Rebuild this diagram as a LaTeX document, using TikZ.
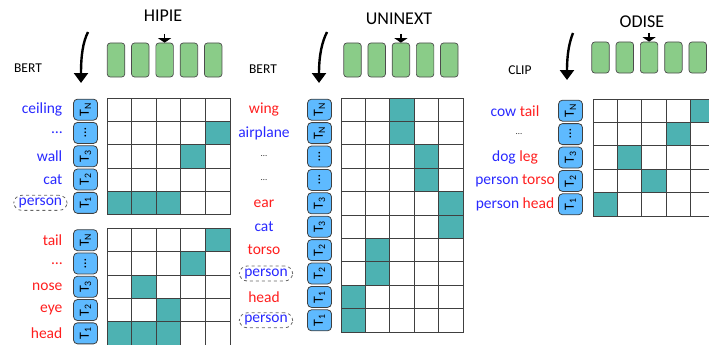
\documentclass[tikz,border=0pt]{standalone}
\usepackage{fontspec}
\setmainfont{Carlito}
\usepackage{graphicx}
\usepackage{tikz}
\usetikzlibrary{positioning}
\usetikzlibrary{arrows.meta}

\definecolor{qblue}{RGB}{40,40,255}
\definecolor{qred}{RGB}{255,30,30}
\definecolor{cellteal}{RGB}{77,178,178}
\definecolor{boxgreen}{RGB}{138,204,136}
\definecolor{tokblue}{RGB}{94,186,255}

\begin{document}
\begin{tikzpicture}[x=1pt, y=-1pt,
    title/.style={font=\fontsize{18}{20}\selectfont},
    enc/.style={font=\fontsize{13.5}{15}\selectfont},
    lbl/.style={font=\fontsize{15.5}{18}\selectfont, inner sep=0pt},
    pers/.style={lbl, text=qblue, draw=black!60, dashed, rounded corners=8pt, inner xsep=5pt, inner ysep=2.5pt, line width=0.8pt},
    tok/.style={draw=black!75, fill=tokblue, rounded corners=4pt, minimum width=24pt, minimum height=21pt, inner sep=0pt, line width=0.8pt, font=\fontsize{14}{14}\selectfont},
    query/.style={draw=black!70, fill=boxgreen, rounded corners=3pt, minimum width=17.5pt, minimum height=34pt, inner sep=0pt, line width=0.7pt},
    cell/.style={draw=black!75, line width=0.7pt},
    hit/.style={cell, fill=cellteal},
    pick/.style={line width=1.3pt, -{Triangle[width=13pt, length=4.5pt]}},
    feed/.style={line width=2.4pt, -{Triangle[width=14pt, length=10pt]}}]
  \useasboundingbox (0,0) rectangle (709,345);
  \clip (0,0) rectangle (709,345);

  % HIPIE
  \node[title] (hipie) at (163,15.5) {HIPIE};
  \node[enc] (bertA) at (28,68) {BERT};
  \foreach \i in {1,...,5}
    \node[query] (hq\i) at ({116+(\i-1)*24.3},60) {};
  \coordinate (hpin) at (164.6,34);
  \draw[pick] (hpin) -- (hq3.north);
  \coordinate (hsrc) at (88,32);
  \coordinate (hdst) at (81,83);
  \draw[feed] (hsrc) .. controls (83,42) and (81,55) .. (hdst);

  \foreach \r in {1,...,5}
    \foreach \c in {1,...,5} {
      \draw[cell] ({107+(\c-1)*24.6},{98+(\r-1)*23.3}) rectangle ++(24.6,23.3);
      \draw[cell] ({107+(\c-1)*24.6},{228.5+(\r-1)*23.3}) rectangle ++(24.6,23.3);
    }
  \foreach \r/\c in {2/5,3/4,5/1,5/2,5/3}
    \draw[hit] ({107+(\c-1)*24.6},{98+(\r-1)*23.3}) rectangle ++(24.6,23.3);
  \foreach \r/\c in {1/5,2/4,3/2,4/3,5/1,5/2,5/3}
    \draw[hit] ({107+(\c-1)*24.6},{228.5+(\r-1)*23.3}) rectangle ++(24.6,23.3);

  \foreach \r/\t/\w in {1/T\textsubscript{N}/ceiling, 2/\ldots/\ldots, 3/T\textsubscript{3}/wall, 4/T\textsubscript{2}/cat} {
    \node[tok] (hta\r) at (85.5,{98+(\r-0.5)*23.3}) {\rotatebox{90}{\t}};
    \node[lbl, text=qblue, anchor=east] (hwa\r) at (62.5,{98+(\r-0.5)*23.3}) {\w};
  }
  \node[tok] (hta5) at (85.5,{98+4.5*23.3}) {\rotatebox{90}{T\textsubscript{1}}};
  \node[pers, anchor=east] (hwa5) at (67.5,{98+4.5*23.3}) {person};

  \foreach \r/\t/\w in {1/T\textsubscript{N}/tail, 2/\ldots/\ldots, 3/T\textsubscript{3}/nose, 4/T\textsubscript{2}/eye, 5/T\textsubscript{1}/head} {
    \node[tok] (htb\r) at (85.5,{228.5+(\r-0.5)*23.3}) {\rotatebox{90}{\t}};
    \node[lbl, text=qred, anchor=east] (hwb\r) at (62.5,{228.5+(\r-0.5)*23.3}) {\w};
  }

  % UNINEXT
  \node[title] (uninext) at (399,19) {UNINEXT};
  \node[enc] (bertB) at (263,69) {BERT};
  \foreach \i in {1,...,5}
    \node[query] (uq\i) at ({352.5+(\i-1)*24.2},60) {};
  \coordinate (upin) at (400.9,34);
  \draw[pick] (upin) -- (uq3.north);
  \coordinate (usrc) at (327,32);
  \coordinate (udst) at (319,83);
  \draw[feed] (usrc) .. controls (322,42) and (319,55) .. (udst);

  \foreach \r in {1,...,10}
    \foreach \c in {1,...,5}
      \draw[cell] ({341+(\c-1)*24.4},{98+(\r-1)*23.4}) rectangle ++(24.4,23.4);
  \foreach \r/\c in {1/3,2/3,3/4,4/4,5/5,6/5,7/2,8/2,9/1,10/1}
    \draw[hit] ({341+(\c-1)*24.4},{98+(\r-1)*23.4}) rectangle ++(24.4,23.4);

  \foreach \r/\t/\w/\col in {1/T\textsubscript{N}/wing/qred, 2/T\textsubscript{N}/airplane/qblue, 3/\ldots/{\small\ldots}/black!80, 4/\ldots/{\small\ldots}/black!80, 5/T\textsubscript{3}/ear/qred, 6/T\textsubscript{3}/cat/qblue, 7/T\textsubscript{2}/torso/qred, 9/T\textsubscript{1}/head/qred} {
    \node[tok] (ut\r) at (319.5,{98+(\r-0.5)*23.4}) {\rotatebox{90}{\t}};
    \node[lbl, text=\col] (uw\r) at (264,{98+(\r-0.5)*23.4}) {\w};
  }
  \node[tok] (ut8) at (319.5,{98+7.5*23.4}) {\rotatebox{90}{T\textsubscript{2}}};
  \node[pers] (uw8) at (266,{98+7.5*23.4}) {person};
  \node[tok] (ut10) at (319.5,{98+9.5*23.4}) {\rotatebox{90}{T\textsubscript{1}}};
  \node[pers] (uw10) at (266,{98+9.5*23.4}) {person};

  % ODISE
  \node[title] (odise) at (642,21.5) {ODISE};
  \node[enc] (clipenc) at (520,70) {CLIP};
  \foreach \i in {1,...,5}
    \node[query, minimum height=31pt] (oq\i) at ({600.5+(\i-1)*24.3},57.5) {};
  \coordinate (opin) at (649.1,33);
  \draw[pick] (opin) -- (oq3.north);
  \coordinate (osrc) at (573,33);
  \coordinate (odst) at (567,80);
  \draw[feed] (osrc) .. controls (569,43) and (567,55) .. (odst);

  \foreach \r in {1,...,5}
    \foreach \c in {1,...,5}
      \draw[cell] ({593+(\c-1)*24.4},{99+(\r-1)*23.4}) rectangle ++(24.4,23.4);
  \foreach \r/\c in {1/5,2/4,3/2,4/3,5/1}
    \draw[hit] ({593+(\c-1)*24.4},{99+(\r-1)*23.4}) rectangle ++(24.4,23.4);

  \foreach \r/\t/\a/\b in {1/T\textsubscript{N}/cow/tail, 3/T\textsubscript{3}/dog/leg, 4/T\textsubscript{2}/person/torso, 5/T\textsubscript{1}/person/head} {
    \node[tok] (ot\r) at (570.5,{99+(\r-0.5)*23.4}) {\rotatebox{90}{\t}};
    \node[lbl] (ow\r) at (515,{99+(\r-0.5)*23.4}) {\textcolor{qblue}{\a} \textcolor{qred}{\b}};
  }
  \node[tok] (ot2) at (570.5,{99+1.5*23.4}) {\rotatebox{90}{\ldots}};
  \node[lbl, text=black!80] (ow2) at (519,{99+1.5*23.4}) {\small\ldots};
\end{tikzpicture}
\end{document}
